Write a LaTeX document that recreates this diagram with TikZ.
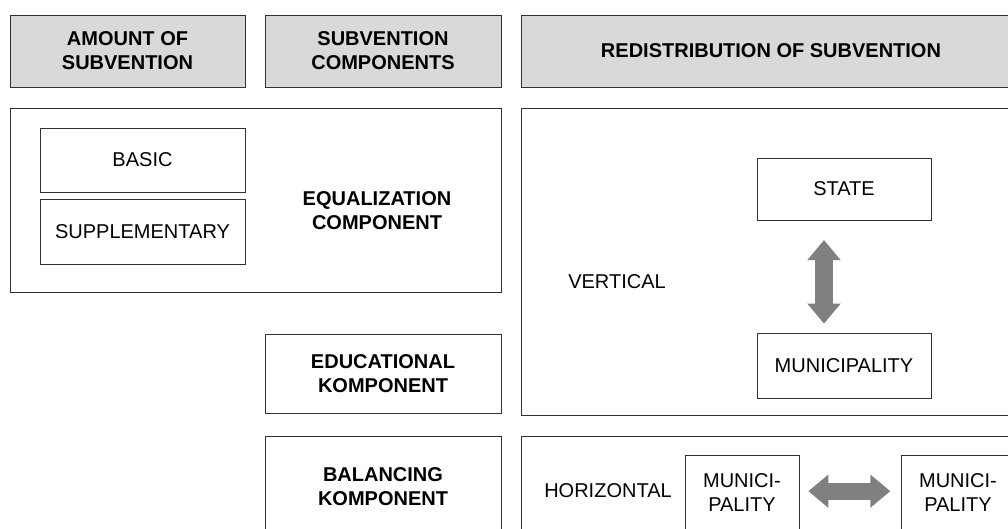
\documentclass[tikz,border=0pt]{standalone}
\usepackage{fontspec}
\setmainfont{Liberation Sans}
\usetikzlibrary{arrows.meta}
\tikzset{
  head/.style ={rectangle, draw=black!80, fill=black!15, line width=0.75pt, align=center,
                inner sep=0pt, outer sep=0pt, font=\fontsize{15}{18}\selectfont\bfseries},
  box/.style  ={rectangle, draw=black!80, line width=0.75pt, align=center,
                inner sep=0pt, outer sep=0pt},
  comp/.style ={box, font=\fontsize{15}{18}\selectfont\bfseries},
  lbl/.style  ={align=center, inner sep=0pt},
  fat/.style  ={draw=black!50, line width=13pt,
                {Triangle[length=15pt,width=24pt]}-{Triangle[length=15pt,width=24pt]}},
}

\begin{document}
\begin{tikzpicture}[x=0.75pt,y=-0.75pt,font=\fontsize{15}{18}\selectfont]
\clip (0,0) rectangle (1008,529);
% --- column heads ---
\node[head, minimum width=176.25pt, minimum height=54pt] (hamount) at (127.5,51) {AMOUNT OF\\SUBVENTION};
\node[head, minimum width=177pt, minimum height=54pt]    (hcomp)   at (383,51)   {SUBVENTION\\COMPONENTS};
\node[head, minimum width=375pt, minimum height=54pt]    (hredist) at (771,51)   {REDISTRIBUTION OF SUBVENTION};
% --- equalization component ---
\node[box, minimum width=368.25pt, minimum height=138pt] (eq) at (255.5,200) {};
\node[box, minimum width=153.75pt, minimum height=48pt]    (basic) at (142.5,160)   {BASIC};
\node[box, minimum width=153.75pt, minimum height=48.75pt] (suppl) at (142.5,231.5) {SUPPLEMENTARY};
\node[lbl, font=\fontsize{15}{18}\selectfont\bfseries] (eqtxt) at (377,211) {EQUALIZATION\\COMPONENT};
% --- other components ---
\node[comp, minimum width=177pt, minimum height=59.25pt] (edu) at (383,373.5) {EDUCATIONAL\\KOMPONENT};
\node[comp, minimum width=177pt, minimum height=76.5pt]  (bal) at (383,487)   {BALANCING\\KOMPONENT};
% --- vertical redistribution ---
\node[box, minimum width=375pt, minimum height=230.25pt] (vert) at (771,261.5) {};
\node[lbl] (verttxt) at (617,282) {VERTICAL};
\node[box, minimum width=130.5pt, minimum height=46.5pt]  (state) at (844,189)   {STATE};
\node[box, minimum width=130.5pt, minimum height=48.75pt] (muni)  at (844,365.5) {MUNICIPALITY};
% --- horizontal redistribution ---
\node[box, minimum width=375pt, minimum height=76.5pt] (horiz) at (771,487) {};
\node[lbl] (horiztxt) at (608,491) {HORIZONTAL};
\node[box, minimum width=85.5pt, minimum height=56.25pt] (munia) at (742,492.5) {MUNICI-\\PALITY};
\node[box, minimum width=85.5pt, minimum height=56.25pt] (munib) at (958,492.5) {MUNICI-\\PALITY};
% arrows between levels
\draw[fat, shorten <=15pt, shorten >=7pt] ([xshift=-15pt]state.south) -- ([xshift=-15pt]muni.north);
\draw[fat, shorten <=7pt, shorten >=8pt] ([yshift=1pt]munia.east) -- ([yshift=1pt]munib.west);
\end{tikzpicture}
\end{document}
